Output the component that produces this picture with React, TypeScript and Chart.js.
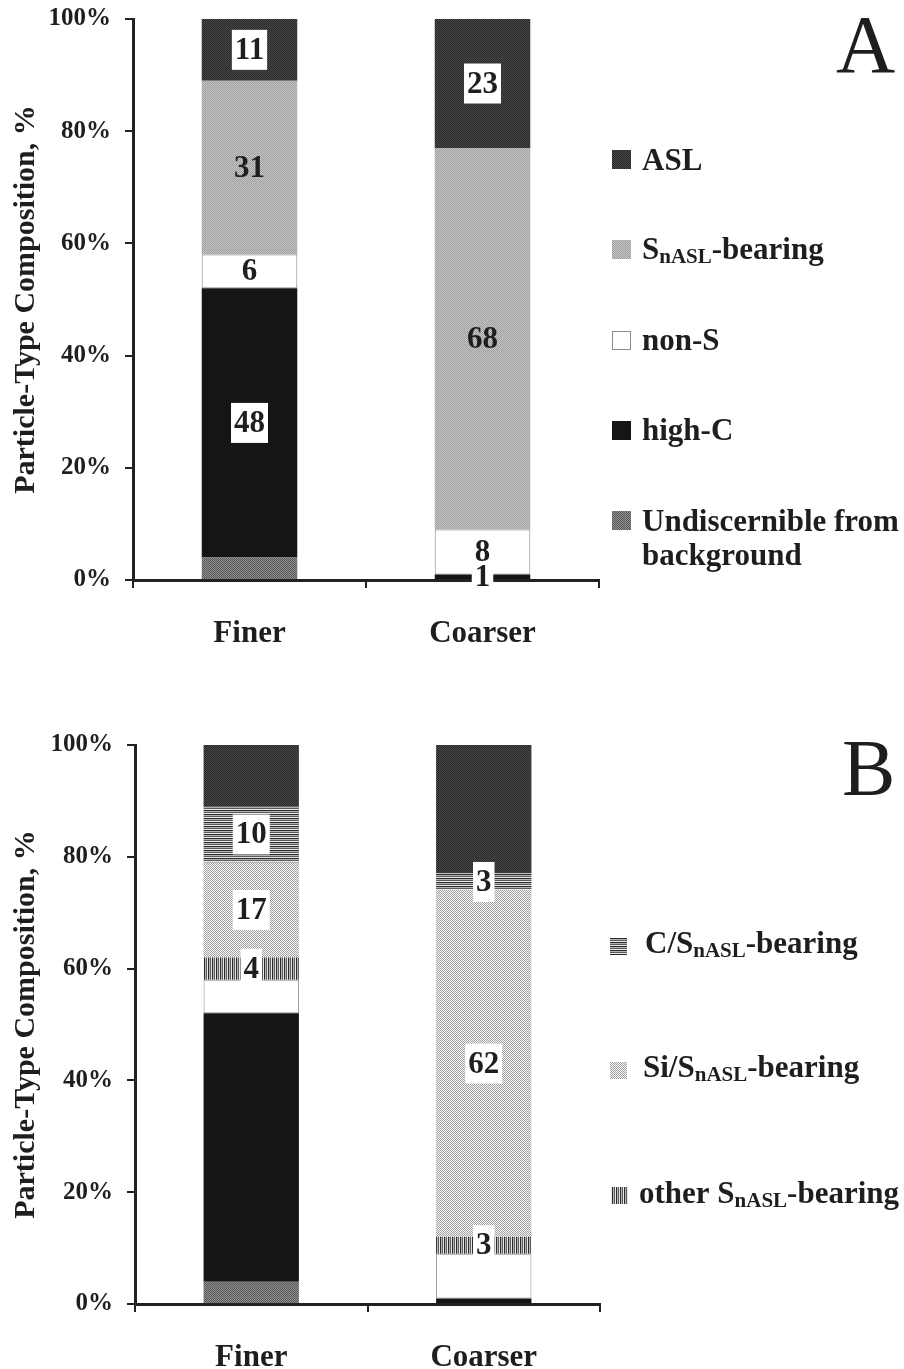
import React, { useEffect, useRef } from 'react';
import { Chart, registerables } from 'chart.js';

Chart.register(...registerables);

// ---- data ----
const categories = ['Finer', 'Coarser'];
const yTickValues = [0, 20, 40, 60, 80, 100];

// Panel A: overall particle types (%)
const aUndiscernible = [4, 0];
const aHighC = [48, 1];
const aNonS = [6, 8];
const aSBearing = [31, 68];
const aASL = [11, 23];

// Panel B: S-bearing particles split by co-element (%)
const bUndiscernible = [4, 0];
const bHighC = [48, 1];
const bNonS = [6, 8];
const bOtherS = [4, 3];
const bSiS = [17, 62];
const bCS = [10, 3];
const bASL = [11, 23];

// value labels: 0 = none, 1 = text, 2 = text on a white box
const aLabelUndiscernible = [0, 0];
const aLabelHighC = [2, 2];
const aLabelNonS = [1, 1];
const aLabelSBearing = [1, 1];
const aLabelASL = [2, 2];
const bLabelUndiscernible = [0, 0];
const bLabelHighC = [0, 0];
const bLabelNonS = [0, 0];
const bLabelOtherS = [2, 2];
const bLabelSiS = [2, 2];
const bLabelCS = [2, 2];
const bLabelASL = [0, 0];

const SERIF = '"Liberation Serif", "Times New Roman", serif';
const INK = '#1e1e1e';

function makePattern(cells: string[][]): CanvasPattern | string {
  const h = cells.length;
  const w = cells[0].length;
  const c = document.createElement('canvas');
  c.width = w;
  c.height = h;
  const g = c.getContext('2d')!;
  for (let r = 0; r < h; r++) {
    for (let k = 0; k < w; k++) {
      g.fillStyle = cells[r][k];
      g.fillRect(k, r, 1, 1);
    }
  }
  const p = g.createPattern(c, 'repeat');
  return p || cells[0][0];
}

function makeFills() {
  return {
    asl: makePattern([
      ['#262626', '#4a4a4a'],
      ['#4a4a4a', '#262626'],
    ]),
    sBearing: makePattern([
      ['#9e9e9e', '#c6c6c6'],
      ['#c6c6c6', '#9e9e9e'],
    ]),
    undisc: makePattern([
      ['#5a5a5a', '#8e8e8e'],
      ['#8e8e8e', '#5a5a5a'],
    ]),
    highC: '#151515',
    nonS: '#ffffff',
    cs: makePattern([['#2b2b2b'], ['#b4b4b4'], ['#5a5a5a'], ['#e8e8e8']]),
    si: makePattern([
      ['#a0a0a0', '#f8f8f8'],
      ['#f8f8f8', '#a0a0a0'],
    ]),
    other: makePattern([['#2b2b2b', '#b4b4b4', '#5a5a5a', '#e8e8e8']]),
  };
}

type Part = string | { sub: string };
type LegendItem = {
  fill: string;
  box: [number, number, number];
  textX: number;
  lines: { baseline: number; parts: Part[] }[];
};

const barLabelPlugin = {
  id: 'barValueLabels',
  afterDatasetsDraw(chart: any) {
    const ctx = chart.ctx;
    ctx.save();
    ctx.font = `bold 31px ${SERIF}`;
    ctx.textAlign = 'center';
    ctx.textBaseline = 'middle';
    chart.data.datasets.forEach((ds: any, di: number) => {
      const meta = chart.getDatasetMeta(di);
      meta.data.forEach((bar: any, i: number) => {
        const mode = ds.labelModes ? ds.labelModes[i] : 0;
        const v = ds.data[i];
        if (!mode || !v) return;
        const { x, y, base } = bar.getProps(['x', 'y', 'base'], true);
        const cy = (y + base) / 2;
        const text = String(v);
        const w = ctx.measureText(text).width;
        if (mode === 2) {
          ctx.fillStyle = '#ffffff';
          ctx.fillRect(x - w / 2 - 3, cy - 20, w + 6, 40);
        }
        ctx.fillStyle = INK;
        ctx.fillText(text, x, cy + 1);
      });
    });
    ctx.restore();
  },
};

function makeOverlayPlugin(letter: { text: string; x: number; baseline: number; size: number }, legend: LegendItem[], fills: any) {
  return {
    id: 'panelOverlay',
    afterDraw(chart: any) {
      const ctx = chart.ctx;
      ctx.save();
      ctx.textAlign = 'left';
      ctx.textBaseline = 'alphabetic';
      ctx.fillStyle = INK;
      ctx.font = `${letter.size}px ${SERIF}`;
      ctx.fillText(letter.text, letter.x, letter.baseline);

      legend.forEach((item) => {
        const [bx, by, bs] = item.box;
        ctx.fillStyle = fills[item.fill];
        ctx.fillRect(bx, by, bs, bs);
        if (item.fill === 'nonS') {
          ctx.strokeStyle = '#8c8c8c';
          ctx.lineWidth = 1;
          ctx.strokeRect(bx + 0.5, by + 0.5, bs - 1, bs - 1);
        }
        ctx.fillStyle = INK;
        item.lines.forEach((line) => {
          let x = item.textX;
          line.parts.forEach((p) => {
            if (typeof p === 'string') {
              ctx.font = `bold 31px ${SERIF}`;
              ctx.fillText(p, x, line.baseline);
              x += ctx.measureText(p).width;
            } else {
              ctx.font = `bold 21px ${SERIF}`;
              ctx.fillText(p.sub, x, line.baseline + 4);
              x += ctx.measureText(p.sub).width;
            }
          });
        });
      });
      ctx.restore();
    },
  };
}

type PanelSpec = {
  top: number;
  height: number;
  yAxisWidth: number;
  xAxisHeight: number;
  padTop: number;
  plotRight: number;
  tickPad: number;
  datasets: (fills: any) => any[];
  letter: { text: string; x: number; baseline: number; size: number };
  legend: LegendItem[];
};

function Panel({ spec }: { spec: PanelSpec }) {
  const ref = useRef<HTMLCanvasElement>(null);
  useEffect(() => {
    const fills = makeFills();
    const tickFont = { family: SERIF, size: 25, weight: 'bold' as const };
    const chart = new Chart(ref.current!, {
      type: 'bar',
      data: { labels: categories, datasets: spec.datasets(fills) },
      options: {
        responsive: false,
        animation: false,
        layout: { padding: { top: spec.padTop, right: 904 - spec.plotRight, left: 0, bottom: 0 } },
        datasets: { bar: { barPercentage: 0.41, categoryPercentage: 1 } },
        plugins: { legend: { display: false }, tooltip: { enabled: false } },
        scales: {
          x: {
            stacked: true,
            grid: { drawOnChartArea: false, drawTicks: true, tickLength: 8, color: '#222', lineWidth: 2 },
            border: { display: true, color: '#222', width: 3 },
            ticks: { font: { family: SERIF, size: 31, weight: 'bold' }, color: INK, padding: spec.tickPad },
            afterFit: (s: any) => {
              s.height = spec.xAxisHeight;
              s.paddingLeft = 0;
              s.paddingRight = 0;
            },
          },
          y: {
            stacked: true,
            min: 0,
            max: 100,
            afterBuildTicks: (s: any) => {
              s.ticks = yTickValues.map((v) => ({ value: v }));
            },
            grid: { drawOnChartArea: false, drawTicks: true, tickLength: 8, color: '#222', lineWidth: 2 },
            border: { display: true, color: '#222', width: 3 },
            ticks: { font: tickFont, color: INK, padding: 14, callback: (v: any) => `${v}%` },
            title: {
              display: true,
              text: 'Particle-Type Composition, %',
              font: { family: SERIF, size: 30, weight: 'bold' },
              color: INK,
              padding: { top: 8, bottom: 0 },
            },
            afterFit: (s: any) => {
              s.width = spec.yAxisWidth;
              s.paddingTop = 0;
              s.paddingBottom = 0;
            },
          },
        },
      } as any,
      plugins: [barLabelPlugin, makeOverlayPlugin(spec.letter, spec.legend, fills)],
    });
    return () => chart.destroy();
  }, [spec]);
  return (
    <canvas
      ref={ref}
      width={904}
      height={spec.height}
      style={{ position: 'absolute', left: 0, top: spec.top, width: 904, height: spec.height, display: 'block' }}
    />
  );
}

const panelA: PanelSpec = {
  top: 0,
  height: 660,
  yAxisWidth: 133,
  xAxisHeight: 80,
  padTop: 19,
  plotRight: 599,
  tickPad: 27,
  datasets: (f) => [
    { label: 'Undiscernible from background', data: aUndiscernible, backgroundColor: f.undisc, labelModes: aLabelUndiscernible },
    { label: 'high-C', data: aHighC, backgroundColor: f.highC, labelModes: aLabelHighC },
    { label: 'non-S', data: aNonS, backgroundColor: f.nonS, borderColor: '#8c8c8c', borderWidth: 1, borderSkipped: false, labelModes: aLabelNonS },
    { label: 'SnASL-bearing', data: aSBearing, backgroundColor: f.sBearing, labelModes: aLabelSBearing },
    { label: 'ASL', data: aASL, backgroundColor: f.asl, labelModes: aLabelASL },
  ],
  letter: { text: 'A', x: 836, baseline: 72, size: 82 },
  legend: [
    { fill: 'asl', box: [612, 150, 19], textX: 642, lines: [{ baseline: 170, parts: ['ASL'] }] },
    { fill: 'sBearing', box: [612, 240, 19], textX: 642, lines: [{ baseline: 259, parts: ['S', { sub: 'nASL' }, '-bearing'] }] },
    { fill: 'nonS', box: [612, 331, 19], textX: 642, lines: [{ baseline: 350, parts: ['non-S'] }] },
    { fill: 'highC', box: [612, 421, 19], textX: 642, lines: [{ baseline: 440, parts: ['high-C'] }] },
    {
      fill: 'undisc',
      box: [612, 511, 19],
      textX: 642,
      lines: [
        { baseline: 531, parts: ['Undiscernible from'] },
        { baseline: 565, parts: ['background'] },
      ],
    },
  ],
};

const panelB: PanelSpec = {
  top: 726,
  height: 643,
  yAxisWidth: 135,
  xAxisHeight: 65,
  padTop: 19,
  plotRight: 600,
  tickPad: 27,
  datasets: (f) => [
    { label: 'Undiscernible from background', data: bUndiscernible, backgroundColor: f.undisc, labelModes: bLabelUndiscernible },
    { label: 'high-C', data: bHighC, backgroundColor: f.highC, labelModes: bLabelHighC },
    { label: 'non-S', data: bNonS, backgroundColor: f.nonS, borderColor: '#8c8c8c', borderWidth: 1, borderSkipped: false, labelModes: bLabelNonS },
    { label: 'other SnASL-bearing', data: bOtherS, backgroundColor: f.other, labelModes: bLabelOtherS },
    { label: 'Si/SnASL-bearing', data: bSiS, backgroundColor: f.si, labelModes: bLabelSiS },
    { label: 'C/SnASL-bearing', data: bCS, backgroundColor: f.cs, labelModes: bLabelCS },
    { label: 'ASL', data: bASL, backgroundColor: f.asl, labelModes: bLabelASL },
  ],
  letter: { text: 'B', x: 842, baseline: 795 - 726, size: 80 },
  legend: [
    { fill: 'cs', box: [610, 938 - 726, 17], textX: 645, lines: [{ baseline: 953 - 726, parts: ['C/S', { sub: 'nASL' }, '-bearing'] }] },
    { fill: 'si', box: [610, 1062 - 726, 17], textX: 643, lines: [{ baseline: 1077 - 726, parts: ['Si/S', { sub: 'nASL' }, '-bearing'] }] },
    { fill: 'other', box: [611, 1187 - 726, 17], textX: 639, lines: [{ baseline: 1203 - 726, parts: ['other S', { sub: 'nASL' }, '-bearing'] }] },
  ],
};

export default function App() {
  return (
    <div style={{ position: 'absolute', left: 0, top: 0, width: 904, height: 1369, background: '#ffffff', overflow: 'hidden' }}>
      <Panel spec={panelA} />
      <Panel spec={panelB} />
    </div>
  );
}
